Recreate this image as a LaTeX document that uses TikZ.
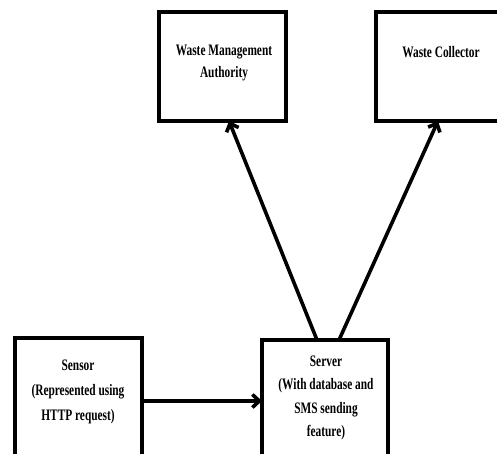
\documentclass[tikz,border=0pt]{standalone}
\usepackage{fontspec}
\setmainfont{Liberation Serif}[FakeStretch=0.71]
\usetikzlibrary{arrows.meta}
\begin{document}
\begin{tikzpicture}[x=1pt,y=-1pt,
  box/.style={draw,line width=4pt,minimum width=#1,inner sep=0pt,outer sep=0pt},
  lbl/.style={align=center,font=\fontsize{16}{22}\selectfont\bfseries,inner sep=0pt},
  flow/.style={line width=3.6pt,-{Straight Barb[length=7pt,width=13pt,line width=3.6pt]}}]
\useasboundingbox (0,0) rectangle (497,454);
\clip (0,0) rectangle (497,454);
% boxes
\node[box=127pt,minimum height=109pt] (wma) at (222.5,66.5) {};
\node[box=126pt,minimum height=109pt] (wc) at (439,66.5) {};
\node[box=127pt,minimum height=126pt] (sensor) at (78.5,401) {};
\node[box=126pt,minimum height=126pt] (server) at (325,403) {};
% labels
\node[lbl] (wmat) at (224,63) {Waste Management\\Authority};
\node[lbl] (wct) at (441,52) {Waste Collector};
\node[lbl,font=\fontsize{16}{25}\selectfont\bfseries] (sensort) at (78,392) {Sensor\\(Represented using\\HTTP request)};
\node[lbl,font=\fontsize{16}{23.5}\selectfont\bfseries] (servert) at (326,398) {Server\\(With database and\\SMS sending\\feature)};
% connectors
\draw[flow] (sensor.east) -- (sensor.east -| server.west);
\draw[flow] ([xshift=-8pt]server.north) -- ([xshift=6.5pt]wma.south);
\draw[flow] ([xshift=14pt]server.north) -- ([xshift=-1pt]wc.south);
\end{tikzpicture}
\end{document}
